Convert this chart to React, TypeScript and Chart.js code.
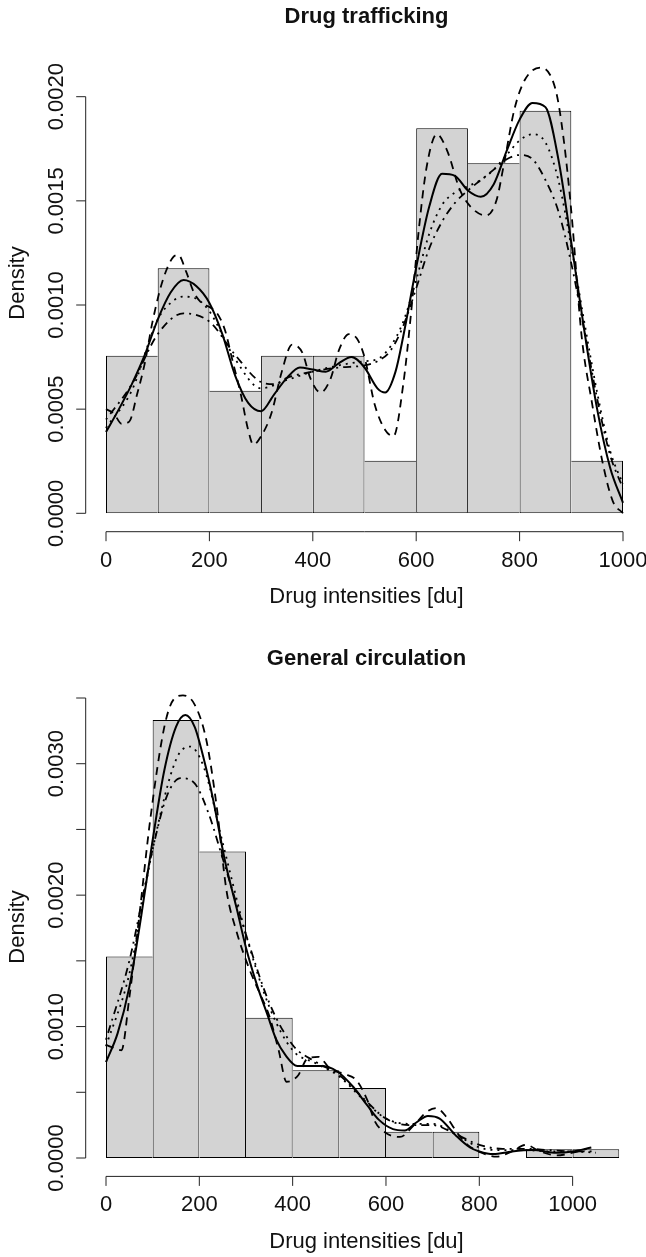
import React, { useEffect, useRef } from "react";
import { Chart, registerables } from "chart.js";
Chart.register(...registerables);

// ---------- Chart 1: Drug trafficking ----------
const title1 = "Drug trafficking";
const binCenters1 = [50, 150, 250, 350, 450, 550, 650, 750, 850, 950];
const binDensity1 = [0.000756, 0.001176, 0.000588, 0.000756, 0.000756, 0.000252, 0.001849, 0.001681, 0.001933, 0.000252];
const yTicks1 = [0, 0.0005, 0.001, 0.0015, 0.002];
const yTickLabels1 = ["0.0000", "0.0005", "0.0010", "0.0015", "0.0020"];
const xTicks1 = [0, 200, 400, 600, 800, 1000];
const xTickLabels1 = ["0", "200", "400", "600", "800", "1000"];

const solidX1 = [0, 25, 50, 75, 100, 125, 150, 175, 200, 225, 250, 275, 300, 325, 350, 375, 400, 425, 450, 475, 500, 525, 540, 560, 575, 600, 625, 650, 675, 700, 725, 750, 775, 800, 825, 850, 875, 900, 925, 950, 975, 1000];
const solidY1 = [0.00039, 0.0005, 0.00062, 0.00076, 0.00093, 0.00106, 0.00112, 0.00109, 0.00101, 0.00086, 0.00066, 0.00053, 0.00049, 0.00057, 0.00065, 0.0007, 0.00069, 0.00068, 0.00072, 0.00075, 0.0007, 0.0006, 0.00058, 0.00068, 0.00085, 0.00118, 0.00147, 0.00163, 0.00162, 0.00155, 0.00152, 0.00158, 0.00174, 0.00189, 0.00197, 0.00195, 0.0017, 0.0013, 0.00088, 0.0005, 0.00022, 0.00005];

const dashedX1 = [0, 15, 30, 45, 60, 75, 90, 110, 130, 140, 155, 170, 185, 200, 215, 230, 245, 260, 275, 285, 300, 320, 340, 360, 380, 395, 415, 435, 450, 470, 485, 500, 520, 540, 556, 575, 590, 605, 620, 640, 660, 685, 710, 735, 755, 770, 790, 810, 840, 870, 885, 900, 920, 940, 960, 980, 1000];
const dashedY1 = [0.0005, 0.00048, 0.00043, 0.00044, 0.00057, 0.00072, 0.00092, 0.00112, 0.00123, 0.00124, 0.00116, 0.00106, 0.00101, 0.00099, 0.00096, 0.00088, 0.00073, 0.00058, 0.0004, 0.00033, 0.00037, 0.00048, 0.00068, 0.00081, 0.00077, 0.00065, 0.00058, 0.00065, 0.00078, 0.00086, 0.00084, 0.00075, 0.00052, 0.0004, 0.00037, 0.00062, 0.00096, 0.00136, 0.00166, 0.00182, 0.00174, 0.00155, 0.00146, 0.00143, 0.0015, 0.00168, 0.00194, 0.00208, 0.00214, 0.00203, 0.0018, 0.00145, 0.00085, 0.00053, 0.00025, 0.00006, 0.0];

const dottedX1 = [0, 50, 100, 130, 150, 175, 200, 250, 300, 350, 400, 450, 500, 525, 550, 575, 600, 625, 650, 675, 700, 725, 750, 775, 800, 825, 850, 875, 900, 925, 950, 975, 1000];
const dottedY1 = [0.00041, 0.00059, 0.00093, 0.00102, 0.00104, 0.00103, 0.00097, 0.00074, 0.0006, 0.00064, 0.00068, 0.00071, 0.00073, 0.00074, 0.0008, 0.00092, 0.00112, 0.00134, 0.00148, 0.00154, 0.00157, 0.0016, 0.00165, 0.00172, 0.00179, 0.00182, 0.00178, 0.0016, 0.00128, 0.00092, 0.00058, 0.0003, 0.00014];

const dotdashX1 = [0, 50, 100, 150, 200, 250, 300, 325, 350, 400, 450, 500, 525, 550, 575, 600, 625, 650, 675, 700, 725, 750, 775, 800, 825, 850, 875, 900, 925, 950, 975, 1000];
const dotdashY1 = [0.00045, 0.00062, 0.00086, 0.00096, 0.00092, 0.00076, 0.00063, 0.00062, 0.00065, 0.00068, 0.0007, 0.00071, 0.00073, 0.00078, 0.0009, 0.00108, 0.00127, 0.0014, 0.00149, 0.00155, 0.0016, 0.00165, 0.0017, 0.00172, 0.0017, 0.0016, 0.00145, 0.0012, 0.00088, 0.00055, 0.00028, 0.00012];

// ---------- Chart 2: General circulation ----------
const title2 = "General circulation";
const binCenters2 = [50, 150, 250, 350, 450, 550, 650, 750, 850, 950, 1050];
const binDensity2 = [0.001533, 0.003333, 0.002333, 0.001067, 0.000667, 0.000533, 0.0002, 0.0002, 0, 0.0000667, 0.0000667];
const yTicks2 = [0, 0.0005, 0.001, 0.0015, 0.002, 0.0025, 0.003, 0.0035];
const yTickLabels2 = ["0.0000", "", "0.0010", "", "0.0020", "", "0.0030", ""];
const xTicks2 = [0, 200, 400, 600, 800, 1000];
const xTickLabels2 = ["0", "200", "400", "600", "800", "1000"];

const solidX2 = [0, 25, 50, 75, 100, 125, 150, 170, 190, 210, 230, 255, 280, 300, 325, 345, 365, 385, 410, 435, 460, 495, 530, 560, 585, 615, 640, 665, 690, 715, 750, 780, 800, 830, 870, 915, 965, 1000, 1040];
const solidY2 = [0.00073, 0.00095, 0.0013, 0.00183, 0.00242, 0.00295, 0.00328, 0.00337, 0.00328, 0.00303, 0.00272, 0.00226, 0.0019, 0.0016, 0.0013, 0.0011, 0.0009, 0.00078, 0.0007, 0.0007, 0.0007, 0.00066, 0.00054, 0.0004, 0.00029, 0.00022, 0.00021, 0.00027, 0.00032, 0.0003, 0.00017, 0.00008, 0.00005, 0.00003, 0.00005, 0.00006, 0.00004, 0.00005, 0.00008];

const dashedX2 = [0, 15, 33, 50, 70, 95, 125, 145, 165, 190, 215, 237, 258, 280, 308, 330, 350, 370, 387, 412, 430, 455, 480, 510, 537, 560, 576, 600, 630, 660, 687, 708, 730, 755, 775, 805, 837, 870, 900, 930, 966, 1000, 1030];
const dashedY2 = [0.00086, 0.00084, 0.00082, 0.00122, 0.0018, 0.00258, 0.00328, 0.00349, 0.00352, 0.00345, 0.00318, 0.00268, 0.00204, 0.00172, 0.00143, 0.00125, 0.00108, 0.00082, 0.00058, 0.00063, 0.00075, 0.00077, 0.00068, 0.00064, 0.00059, 0.00044, 0.00028, 0.00019, 0.00016, 0.00025, 0.00035, 0.00038, 0.00031, 0.00018, 0.0001, 0.00004, 0.00001, 0.00005, 0.0001, 0.00005, 0.00002, 0.00004, 0.00007];

const dottedX2 = [0, 50, 100, 150, 180, 210, 250, 300, 350, 400, 450, 500, 550, 600, 650, 700, 750, 800, 850, 900, 950, 1000, 1050];
const dottedY2 = [0.00085, 0.0014, 0.00235, 0.00303, 0.00313, 0.00297, 0.0024, 0.0017, 0.00115, 0.00082, 0.00072, 0.00062, 0.00045, 0.0003, 0.00026, 0.00026, 0.00018, 0.00008, 0.00006, 0.00006, 0.00005, 0.00005, 0.00004];

const dotdashX2 = [0, 50, 100, 130, 160, 190, 220, 250, 300, 350, 400, 450, 500, 550, 600, 650, 700, 750, 800, 850, 900, 950, 1000, 1050];
const dotdashY2 = [0.0009, 0.0015, 0.00235, 0.00275, 0.00289, 0.00285, 0.00262, 0.00228, 0.0017, 0.00118, 0.00086, 0.00073, 0.00063, 0.00046, 0.0003, 0.00025, 0.00025, 0.00018, 0.0001, 0.00007, 0.00007, 0.00006, 0.00005, 0.00005];

const xLabel = "Drug intensities [du]";
const yLabel = "Density";

const FONT = '"Liberation Sans", Arial, Helvetica, sans-serif';

function pts(xs: number[], ys: number[]) {
  return xs.map((x, i) => ({ x, y: ys[i] }));
}

function lineDs(data: any[], dash: number[], width: number) {
  return {
    type: "line",
    data,
    borderColor: "#000",
    borderWidth: width,
    borderDash: dash,
    pointRadius: 0,
    fill: false,
    cubicInterpolationMode: "monotone",
    clip: false,
    order: 1,
  };
}

function makeAxesPlugin(spec: any) {
  return {
    id: "rAxes",
    afterDraw(chart: any) {
      const { ctx, chartArea } = chart;
      const xs = chart.scales.x;
      const ys = chart.scales.y;
      ctx.save();
      ctx.strokeStyle = "#222";
      ctx.fillStyle = "#111";
      ctx.lineWidth = 1;
      // y axis
      const axX = chartArea.left - 20.3;
      const yTop = ys.getPixelForValue(spec.yTicks[spec.yTicks.length - 1]);
      const yBot = ys.getPixelForValue(spec.yTicks[0]);
      ctx.beginPath();
      ctx.moveTo(axX, yTop);
      ctx.lineTo(axX, yBot);
      spec.yTicks.forEach((t: number) => {
        const p = ys.getPixelForValue(t);
        ctx.moveTo(axX, p);
        ctx.lineTo(axX - 9.5, p);
      });
      // x axis
      const axY = chartArea.bottom + 18.4;
      const xL = xs.getPixelForValue(spec.xTicks[0]);
      const xR = xs.getPixelForValue(spec.xTicks[spec.xTicks.length - 1]);
      ctx.moveTo(xL, axY);
      ctx.lineTo(xR, axY);
      spec.xTicks.forEach((t: number) => {
        const p = xs.getPixelForValue(t);
        ctx.moveTo(p, axY);
        ctx.lineTo(p, axY + 9.5);
      });
      ctx.stroke();

      ctx.font = "22px " + FONT;
      ctx.textAlign = "center";
      ctx.textBaseline = "alphabetic";
      spec.yTicks.forEach((t: number, i: number) => {
        const lab = spec.yLabels[i];
        if (!lab) return;
        const p = ys.getPixelForValue(t);
        ctx.save();
        ctx.translate(axX - 23.2, p);
        ctx.rotate(-Math.PI / 2);
        ctx.fillText(lab, 0, 0);
        ctx.restore();
      });
      spec.xTicks.forEach((t: number, i: number) => {
        const p = xs.getPixelForValue(t);
        ctx.fillText(spec.xLabels[i], p, axY + 35);
      });
      // axis titles
      ctx.fillText(xLabel, 366.5, axY + 71.5);
      ctx.save();
      ctx.translate(24, spec.yLabelY);
      ctx.rotate(-Math.PI / 2);
      ctx.fillText(yLabel, 0, 0);
      ctx.restore();
      // main title
      ctx.font = "bold 22px " + FONT;
      ctx.fillText(spec.title, 366.5, spec.titleY);
      ctx.restore();
    },
  };
}

function borderFor(vals: number[]) {
  return (c: any) => {
    const i = c.dataIndex;
    const n = vals.length;
    return {
      top: 1,
      bottom: 1,
      left: i === 0 || vals[i - 1] <= vals[i] ? 1 : 0,
      right: i === n - 1 || vals[i + 1] < vals[i] ? 1 : 0,
    };
  };
}

function buildChart(canvas: HTMLCanvasElement, spec: any) {
  return new Chart(canvas, {
    type: "bar",
    data: {
      datasets: [
        {
          type: "bar",
          data: pts(spec.binCenters, spec.binDensity),
          backgroundColor: "#d3d3d3",
          borderColor: "#000",
          borderWidth: borderFor(spec.binDensity),
          borderSkipped: false,
          barPercentage: 1,
          categoryPercentage: 1,
          inflateAmount: 0,
          order: 10,
        } as any,
        lineDs(pts(spec.dotX, spec.dotY), [2, 5], 1.8) as any,
        lineDs(pts(spec.ddX, spec.ddY), [2, 5, 8, 5], 1.8) as any,
        lineDs(pts(spec.dashX, spec.dashY), [8, 6], 1.8) as any,
        lineDs(pts(spec.solidX, spec.solidY), [], 2) as any,
      ],
    },
    options: {
      animation: false,
      responsive: false,
      maintainAspectRatio: false,
      events: [],
      layout: { padding: spec.padding },
      plugins: { legend: { display: false }, tooltip: { enabled: false }, title: { display: false } },
      scales: {
        x: { type: "linear", min: spec.xMin, max: spec.xMax, display: false, offset: false },
        y: { type: "linear", min: 0, max: spec.yMax, display: false },
      },
    } as any,
    plugins: [makeAxesPlugin(spec)],
  });
}

export default function App() {
  const c1 = useRef<HTMLCanvasElement>(null);
  const c2 = useRef<HTMLCanvasElement>(null);
  useEffect(() => {
    const ch1 = buildChart(c1.current!, {
      title: title1,
      titleY: 23,
      yLabelY: 283,
      binCenters: binCenters1,
      binDensity: binDensity1,
      solidX: solidX1, solidY: solidY1,
      dashX: dashedX1, dashY: dashedY1,
      dotX: dottedX1, dotY: dottedY1,
      ddX: dotdashX1, ddY: dotdashY1,
      yTicks: yTicks1, yLabels: yTickLabels1,
      xTicks: xTicks1, xLabels: xTickLabels1,
      xMin: 0, xMax: 1000, yMax: 0.002,
      padding: { left: 106, right: 23, top: 96.7, bottom: 1257 - 513.3 },
    });
    const ch2 = buildChart(c2.current!, {
      title: title2,
      titleY: 665,
      yLabelY: 927,
      binCenters: binCenters2,
      binDensity: binDensity2,
      solidX: solidX2, solidY: solidY2,
      dashX: dashedX2, dashY: dashedY2,
      dotX: dottedX2, dotY: dottedY2,
      ddX: dotdashX2, ddY: dotdashY2,
      yTicks: yTicks2, yLabels: yTickLabels2,
      xTicks: xTicks2, xLabels: xTickLabels2,
      xMin: 0, xMax: 1100, yMax: 0.0035,
      padding: { left: 106, right: 646 - 619.3, top: 698, bottom: 1257 - 1158 },
    });
    return () => {
      ch1.destroy();
      ch2.destroy();
    };
  }, []);
  const cs: React.CSSProperties = { position: "absolute", left: 0, top: 0, width: 646, height: 1257 };
  return (
    <div style={{ position: "absolute", left: 0, top: 0, width: 646, height: 1257, background: "#fff" }}>
      <canvas ref={c1} width={646} height={1257} style={cs} />
      <canvas ref={c2} width={646} height={1257} style={cs} />
    </div>
  );
}
